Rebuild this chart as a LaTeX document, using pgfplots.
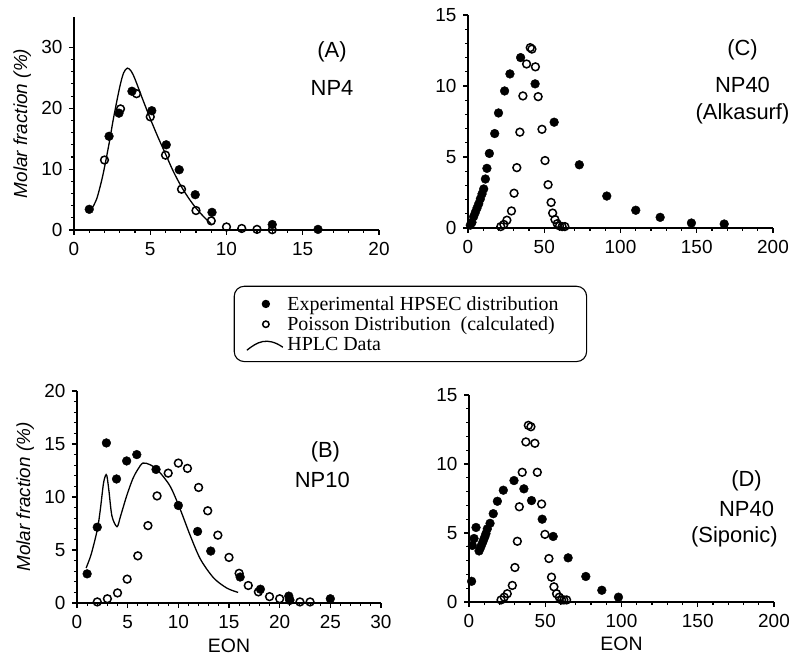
\documentclass[border=0pt]{standalone}
\usepackage{fontspec}
\setmainfont{Liberation Sans}
\newfontfamily\timesf{Liberation Serif}
\usepackage{pgfplots}
\pgfplotsset{compat=1.18}

\pgfplotsset{
  panel/.style={
    scale only axis,
    anchor=south west,
    axis lines=left,
    axis line style={-, line width=1.3bp},
    tick align=outside,
    tick pos=left,
    major tick length=5bp,
    minor tick length=3bp,
    every tick/.append style={black, line width=1.1bp},
    minor tick num=4,
    xmin=0, ymin=0,
    clip=false,
    tick label style={font=\fontsize{19}{20}\selectfont},
    /pgf/number format/assume math mode=true,
    xticklabel style={yshift=-4bp},
    yticklabel style={xshift=-3bp},
    every axis y label/.style={at={(axis description cs:-0.17,0.5)}, rotate=90, anchor=center, font=\itshape\fontsize{19}{22}\selectfont},
    every axis x label/.style={at={(axis description cs:0.5,-0.2)}, anchor=center, font=\fontsize{19.5}{22}\selectfont},
  },
  filled/.style={only marks, mark=*, mark size=4.4bp, black,
    legend image code/.code={\path (0bp,0bp) (38bp,0bp); \draw[##1, mark size=3.6bp] plot coordinates {(19bp,0bp)};}},
  open/.style={only marks, mark=o, mark size=3.9bp, black, mark options={line width=1.5bp},
    legend image code/.code={\path (0bp,0bp) (38bp,0bp); \draw[##1, mark size=3.2bp] plot coordinates {(19bp,0bp)};}},
  hplc/.style={black, line width=1.3bp, smooth, no marks,
    legend image code/.code={\draw[black, line width=1.3bp] (0bp,-6bp) .. controls (10bp,2bp) and (20bp,8bp) .. (36bp,-3bp);}},
}
\newcommand\plab{\fontsize{22}{24}\selectfont}

\begin{document}
\begin{tikzpicture}
\useasboundingbox (0bp,0bp) rectangle (799bp,657bp);

% (A) NP4
\begin{axis}[panel, at={(74bp,427bp)}, width=305bp, height=213bp,
  xmax=20, ymax=35, xtick={0,5,10,15,20}, ytick={0,10,20,30},
  ylabel={Molar fraction (\%)},
  legend style={at={(1.103,-0.441)}, anchor=center, draw=black, line width=1.1bp,
    rounded corners=10bp, font=\timesf\fontsize{20}{22}\selectfont,
    inner xsep=12bp, inner ysep=8bp, row sep=1bp},
  legend cell align=left]
\addplot[filled] coordinates {(1.0,3.4) (2.3,15.4) (2.95,19.2) (3.8,22.8) (5.1,19.6)
  (6.05,14.0) (6.9,9.9) (7.95,5.8) (9.05,2.9) (13.0,0.9) (16.0,0.1)};
\addlegendentry{Experimental HPSEC distribution\hspace*{14bp}}
\addplot[open] coordinates {(2.0,11.5) (3.05,19.9) (4.1,22.4) (5.0,18.6) (6.0,12.3)
  (7.05,6.7) (8.0,3.2) (9.0,1.5) (10.0,0.5) (11.0,0.25) (12.0,0.1) (13.0,0.05)};
\addlegendentry{Poisson Distribution\ \ (calculated)}
\addplot[hplc] coordinates {(1.2,3.6) (1.5,5.2) (1.8,8.0) (2.0,10.3) (2.3,14.2) (2.6,18.5)
  (3.0,23.5) (3.25,25.8) (3.5,26.6) (3.75,26.1) (4.0,24.8) (4.5,21.5) (5.0,18.3)
  (5.5,15.3) (6.0,12.5) (6.5,9.7) (7.0,7.3) (7.5,5.3) (8.0,3.6) (8.5,2.2) (9.0,1.0)};
\addlegendentry{HPLC Data}
\node[font=\plab] at (rel axis cs:0.846,0.836) {(A)};
\node[font=\plab] at (rel axis cs:0.846,0.667) {NP4};
\end{axis}

% (C) NP40 Alkasurf
\begin{axis}[panel, at={(468bp,429bp)}, width=305bp, height=213bp,
  xmax=200, ymax=15, xtick={0,50,100,150,200}, ytick={0,5,10,15}]
\addplot[filled] coordinates {(1.5,0.2) (2.6,0.4) (3.7,0.8) (4.8,1.1) (5.9,1.4) (7.0,1.7)
  (8.1,2.05) (9.2,2.4) (10.3,2.75) (11.4,3.45) (12.4,4.2) (14.0,5.25) (17.5,6.65)
  (20.0,8.1) (24.0,9.65) (27.5,10.85) (34.5,12.0) (44.0,10.15) (56.5,7.45) (73,4.45)
  (91,2.25) (110,1.25) (126,0.75) (146.5,0.35) (168,0.28)};
\addplot[open] coordinates {(21.5,0.1) (23.5,0.25) (25.5,0.55) (28.5,1.2) (30.2,2.45)
  (32,4.25) (34,6.75) (36,9.3) (38.4,11.55) (40.8,12.7) (41.9,12.6) (44.2,11.35)
  (46,9.25) (48.5,6.95) (50.5,4.75) (52.5,3.05) (54.5,1.8) (55.5,1.05) (57,0.6)
  (58.5,0.3) (60,0.15) (61.7,0.1) (63.5,0.1)};
\node[font=\plab] at (rel axis cs:0.90,0.836) {(C)};
\node[font=\plab] at (rel axis cs:0.90,0.671) {NP40};
\node[font=\plab] at (rel axis cs:0.90,0.535) {(Alkasurf)};
\end{axis}

% (B) NP10
\begin{axis}[panel, at={(77bp,54bp)}, width=304bp, height=212bp,
  xmax=30, ymax=20, xtick={0,5,...,30}, ytick={0,5,10,15,20},
  ylabel={Molar fraction (\%)}, xlabel={EON}]
\addplot[filled] coordinates {(1,2.75) (2,7.15) (2.9,15.1) (3.9,11.7) (4.9,13.4) (5.9,14.0)
  (7.8,12.6) (10,9.2) (11.9,6.75) (13.2,4.9) (16.1,2.45) (18.1,1.3) (20.9,0.65)
  (21,0.3) (25,0.4)};
\addplot[open] coordinates {(2,0.1) (3,0.4) (4,0.95) (4.95,2.25) (6,4.45) (7,7.3)
  (7.9,10.1) (9,12.25) (10,13.2) (10.9,12.7) (12,10.9) (12.9,8.7) (13.9,6.4) (15,4.3)
  (16,2.8) (16.9,1.65) (17.9,1.05) (19,0.6) (20,0.4) (21,0.25) (22,0.1) (23,0.1)};
\addplot[hplc] coordinates {(0.9,3.3) (1.4,4.6) (2.0,6.9) (2.3,8.8) (2.6,11.2) (2.8,12.0)
  (2.95,12.0) (3.15,10.6) (3.45,8.2) (3.95,7.2) (4.3,8.2) (4.9,10.1) (5.5,11.7)
  (6.0,12.6) (6.5,13.2) (7.2,13.05) (8.0,12.5) (9.2,11.0) (10.2,8.8) (11.2,6.3)
  (12.2,4.1) (13.5,2.35) (14.8,1.4) (15.9,1.0)};
\node[font=\plab] at (rel axis cs:0.817,0.712) {(B)};
\node[font=\plab] at (rel axis cs:0.807,0.580) {NP10};
\end{axis}

% (D) NP40 Siponic
\begin{axis}[panel, at={(469bp,55bp)}, width=305bp, height=207bp,
  xmax=200, ymax=15, xtick={0,50,100,150,200}, ytick={0,5,10,15},
  xlabel={EON}]
\addplot[filled] coordinates {(1.7,1.5) (2.2,4.1) (3.3,4.6) (4.6,5.4) (6.6,3.7) (7.6,3.95)
  (8.5,4.2) (9.4,4.45) (10.3,4.7) (11.1,4.95) (12,5.3) (13.8,5.7) (15.9,6.4) (18.6,7.3)
  (22.5,8.1) (29.5,8.8) (36,8.2) (41,7.35) (48,6.0) (55.2,4.75) (65,3.2) (76.6,1.85)
  (87.1,0.85) (98,0.35)};
\addplot[open] coordinates {(21,0.15) (23.1,0.35) (25.1,0.6) (28.4,1.2) (30.1,2.5)
  (31.7,4.4) (33,6.9) (34.9,9.4) (37.3,11.6) (38.9,12.8) (40.6,12.7) (43.2,11.5)
  (44.8,9.4) (47.6,7.1) (49.8,4.9) (52.4,3.15) (54.1,1.8) (55.7,1.1) (57.4,0.6)
  (59.2,0.35) (60.7,0.15) (62.2,0.15) (64,0.15)};
\node[font=\plab] at (rel axis cs:0.91,0.585) {(D)};
\node[font=\plab] at (rel axis cs:0.91,0.450) {NP40};
\node[font=\plab] at (rel axis cs:0.87,0.315) {(Siponic)};
\end{axis}
\end{tikzpicture}
\end{document}
